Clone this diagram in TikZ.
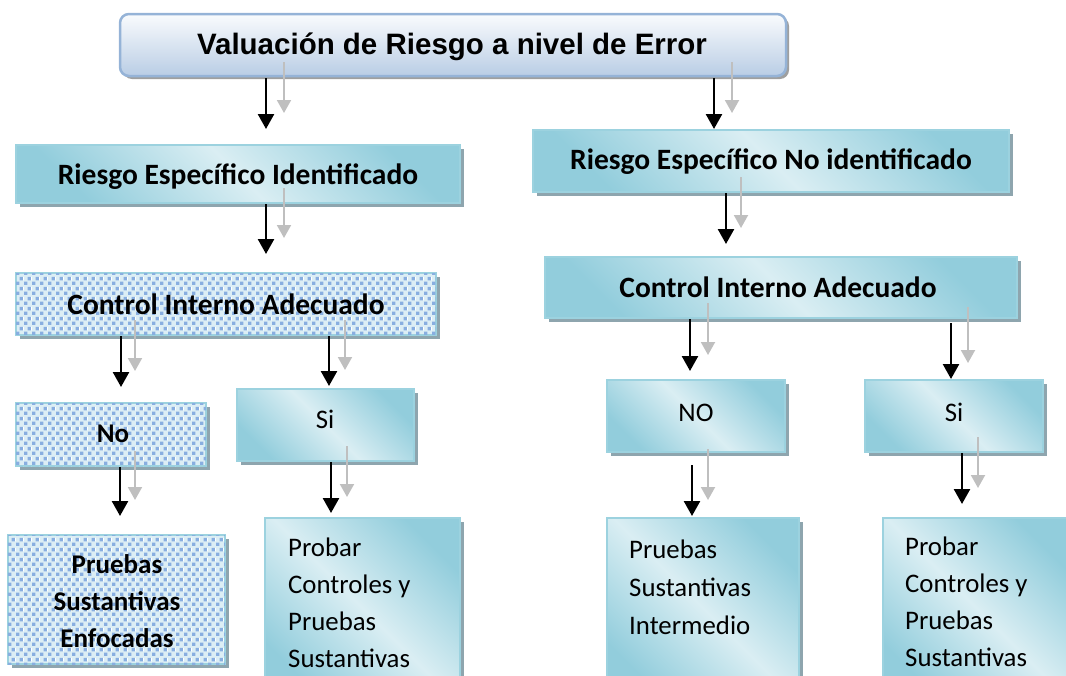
\documentclass[tikz,border=0pt]{standalone}
\usepackage{fontspec}
\setmainfont{Carlito}
\newfontfamily\arialf{Liberation Sans}
\usetikzlibrary{shadows,patterns.meta,arrows.meta,calc}
\definecolor{aqd}{HTML}{92CDDC}
\definecolor{aql}{HTML}{DAEEF3}
\definecolor{aqb}{HTML}{9CD2DF}
\definecolor{shd}{HTML}{8EA5AE}
\definecolor{patbg}{HTML}{DCEEF5}
\definecolor{patsq}{HTML}{88AEE0}
\definecolor{tbord}{HTML}{95B3D7}
\definecolor{tbot}{HTML}{B9CDE5}
\definecolor{gry}{HTML}{BFBFBF}
\tikzdeclarepattern{name=confetti, type=colored,
  bottom left={(0pt,0pt)}, top right={(8pt,10pt)}, tile size={(8pt,10pt)},
  code={\fill[patsq] (0pt,0pt) rectangle (3.8pt,3.8pt);
        \fill[patsq] (4pt,5pt) rectangle (7.8pt,8.8pt);}}
\tikzset{
  box/.style={draw=aqb, line width=2pt, inner sep=0pt,
    drop shadow={shadow xshift=4pt, shadow yshift=-4pt, fill=shd, opacity=1}},
  aqbox/.style={box, top color=aqd, bottom color=aqd, middle color=aql, shading angle=-45},
  patbox/.style={box, fill=patbg, postaction={pattern=confetti}},
  tbox/.style={draw=tbord, line width=2.5pt, rounded corners=9pt, inner sep=0pt,
    top color=white!92!tbot, bottom color=tbot,
    drop shadow={shadow xshift=3pt, shadow yshift=-3pt, fill=gray!75, opacity=1}},
  hd/.style={font=\bfseries\fontsize{29.5}{34}\selectfont, inner sep=0pt},
  hds/.style={font=\bfseries\fontsize{27}{31}\selectfont, inner sep=0pt},
  rg/.style={font=\fontsize{26.8}{31}\selectfont, inner sep=0pt},
  ttl/.style={font=\arialf\bfseries\fontsize{29.5}{34}\selectfont, inner sep=0pt},
  blk/.style={draw=black, line width=2.5pt, -{Triangle[width=16pt,length=15pt]}},
  gra/.style={draw=gry, line width=2pt, -{Triangle[width=14pt,length=13pt]}},
}
% #1 from, #2 to, #3 x, #4 shorten start, #5 shorten end, #6 gray dx
\newcommand\pairarrow[6]{%
  \draw[blk, shorten <=#4pt, shorten >=#5pt] (#1.south -| #3,0) -- (#2.north -| #3,0);
  \draw[gra, shorten <=#4pt, shorten >=#5pt]
    ($(#1.south -| #3,0)+(#6,-16)$) -- ($(#2.north -| #3,0)+(#6,-16)$);}
\begin{document}
\begin{tikzpicture}[x=1pt, y=-1pt]
\path[use as bounding box] (0,0) rectangle (1066,675);
\clip (0,0) rectangle (1066,675);
% boxes
\node[tbox, minimum width=666pt, minimum height=62pt] (t) at (453,45) {};
\node[aqbox, minimum width=444pt, minimum height=58pt] (ri) at (238,174) {};
\node[aqbox, minimum width=476pt, minimum height=62pt] (rn) at (771,161) {};
\node[patbox, minimum width=420pt, minimum height=62pt] (cil) at (226,304) {};
\node[aqbox, minimum width=472pt, minimum height=61pt] (cir) at (781,287.5) {};
\node[patbox, minimum width=190pt, minimum height=63pt] (nol) at (111,434.5) {};
\node[aqbox, minimum width=177pt, minimum height=72pt] (sil) at (325.5,425) {};
\node[aqbox, minimum width=178pt, minimum height=72pt] (nor) at (696,416) {};
\node[aqbox, minimum width=178pt, minimum height=72pt] (sir) at (954,416) {};
\node[patbox, minimum width=217pt, minimum height=129pt] (pse) at (116.5,599.5) {};
\node[aqbox, minimum width=195pt, minimum height=180pt] (pcl) at (362.5,608) {};
\node[aqbox, minimum width=192pt, minimum height=180pt] (psi) at (703,608) {};
\node[aqbox, minimum width=187pt, minimum height=180pt] (pcr) at (976.5,608) {};
% texts
\node[ttl, anchor=base] (tt) at (452,54) {Valuación de Riesgo a nivel de Error};
\node[hd, anchor=base] (tri) at (238,184) {Riesgo Específico Identificado};
\node[hd, anchor=base] (trn) at (771,169) {Riesgo Específico No identificado};
\node[hd, anchor=base] (tcil) at (226,314) {Control Interno Adecuado};
\node[hd, anchor=base] (tcir) at (778,297) {Control Interno Adecuado};
\node[hds, anchor=base] (tnol) at (113,442) {No};
\node[rg, anchor=base] (tsil) at (325,428) {Si};
\node[rg, anchor=base] (tnor) at (696,421) {NO};
\node[rg, anchor=base] (tsir) at (954,421) {Si};
\node[hds, anchor=base] (tpse1) at (117,573) {Pruebas};
\node[hds, anchor=base] (tpse2) at (117,610) {Sustantivas};
\node[hds, anchor=base] (tpse3) at (117,647) {Enfocadas};
\node[rg, anchor=base west] (tpcl1) at (288,556) {Probar};
\node[rg, anchor=base west] (tpcl2) at (288,593) {Controles y};
\node[rg, anchor=base west] (tpcl3) at (288,630) {Pruebas};
\node[rg, anchor=base west] (tpcl4) at (288,667) {Sustantivas};
\node[rg, anchor=base west] (tpsi1) at (629,558) {Pruebas};
\node[rg, anchor=base west] (tpsi2) at (629,596) {Sustantivas};
\node[rg, anchor=base west] (tpsi3) at (629,634) {Intermedio};
\node[rg, anchor=base west] (tpcr1) at (905,555) {Probar};
\node[rg, anchor=base west] (tpcr2) at (905,592) {Controles y};
\node[rg, anchor=base west] (tpcr3) at (905,629) {Pruebas};
\node[rg, anchor=base west] (tpcr4) at (905,666) {Sustantivas};
% arrows
\pairarrow{t}{ri}{266}{1}{15}{18}
\pairarrow{t}{rn}{714}{1}{0}{18}
\pairarrow{ri}{cil}{266}{0}{18}{18}
\pairarrow{rn}{cir}{726}{0}{12}{15}
\pairarrow{cil}{nol}{121}{0}{15}{14}
\pairarrow{cil}{sil}{329}{0}{2}{16}
\pairarrow{nol}{pse}{120}{0}{18}{15}
\pairarrow{sil}{pcl}{331}{0}{4}{16}
\pairarrow{cir}{nor}{690}{0}{8}{18}
\pairarrow{cir}{sir}{951}{4}{0}{17}
\pairarrow{nor}{psi}{692}{12}{1}{16}
\pairarrow{sir}{pcr}{962}{0}{13}{16}
\end{tikzpicture}
\end{document}
